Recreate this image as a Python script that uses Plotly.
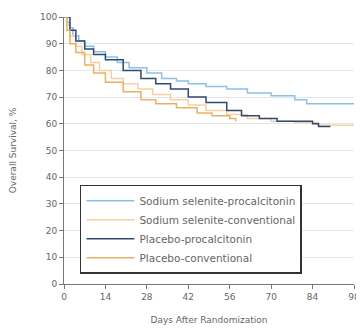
import plotly.graph_objects as go

# Kaplan-Meier step data (days, overall survival %)
ss_pct_days = [0, 1, 2, 3, 5, 7, 10, 14, 18, 22, 28, 33, 38, 42, 48, 55, 62, 70, 78, 82, 98]
ss_pct_vals = [100, 98, 96, 93, 91, 89, 87, 85, 83, 81, 79, 77, 76, 75, 74, 73, 71.5, 70.5, 69, 67.5, 67.5]

ss_conv_days = [0, 1, 2, 4, 6, 9, 12, 16, 20, 25, 30, 36, 42, 48, 55, 62, 70, 78, 86, 98]
ss_conv_vals = [100, 97, 93, 89, 86, 83, 80, 77, 75, 73, 71, 69, 67, 65, 63.5, 62, 61, 60.5, 59.5, 59]

pl_pct_days = [0, 2, 4, 7, 10, 14, 20, 26, 31, 36, 42, 48, 55, 60, 66, 72, 84, 86, 90]
pl_pct_vals = [100, 95, 91, 88, 86, 84, 80, 77, 75, 73, 70, 68, 65, 63, 62, 61, 60, 59, 59]

pl_conv_days = [0, 1, 2, 4, 7, 10, 14, 20, 26, 31, 38, 45, 50, 56, 58]
pl_conv_vals = [100, 95, 90, 86.7, 82, 79, 75.6, 72, 69, 67.5, 66, 64, 63, 62, 61]

x_ticks = [0, 14, 28, 42, 56, 70, 84, 98]
y_ticks = [0, 10, 20, 30, 40, 50, 60, 70, 80, 90, 100]

series = [
    ("Sodium selenite-procalcitonin", ss_pct_days, ss_pct_vals, "#8cc0e8"),
    ("Sodium selenite-conventional", ss_conv_days, ss_conv_vals, "#f6cfa3"),
    ("Placebo-procalcitonin", pl_pct_days, pl_pct_vals, "#2f4a70"),
    ("Placebo-conventional", pl_conv_days, pl_conv_vals, "#e8b062"),
]

fig = go.Figure()
for name, xs, ys, col in series:
    fig.add_trace(go.Scatter(x=xs, y=ys, mode="lines", name=name,
                             line=dict(color=col, width=1.5, shape="hv")))

# page body has an 8px default margin, so the figure is sized/margined to compensate
fig.update_layout(
    width=356, height=323,
    margin=dict(l=56, r=4, t=4, b=47),
    paper_bgcolor="white", plot_bgcolor="white",
    font=dict(family="DejaVu Sans", size=9, color="#666666"),
    showlegend=True,
    legend=dict(x=0.055, y=0.372, xanchor="left", yanchor="top",
                bordercolor="#333333", borderwidth=1.5, bgcolor="white",
                font=dict(size=10.5, color="#666666"), tracegroupgap=0,
                itemwidth=48),
)
fig.update_xaxes(range=[0, 98], tickvals=x_ticks, showgrid=False,
                 showline=True, linecolor="#777777", linewidth=1,
                 ticks="outside", ticklen=4, tickcolor="#777777",
                 ticklabeloverflow="allow",
                 title=dict(text="Days After Randomization", font=dict(size=9)),
                 zeroline=False)
fig.update_yaxes(range=[0, 100], tickvals=y_ticks, showgrid=True,
                 gridcolor="#e6e6e6", showline=True, linecolor="#777777",
                 linewidth=1, ticks="outside", ticklen=4, tickcolor="#777777",
                 ticklabeloverflow="allow",
                 title=dict(text="Overall Survival, %", font=dict(size=9), standoff=22),
                 zeroline=False)

fig.write_html("out.html", config={"displayModeBar": False})
